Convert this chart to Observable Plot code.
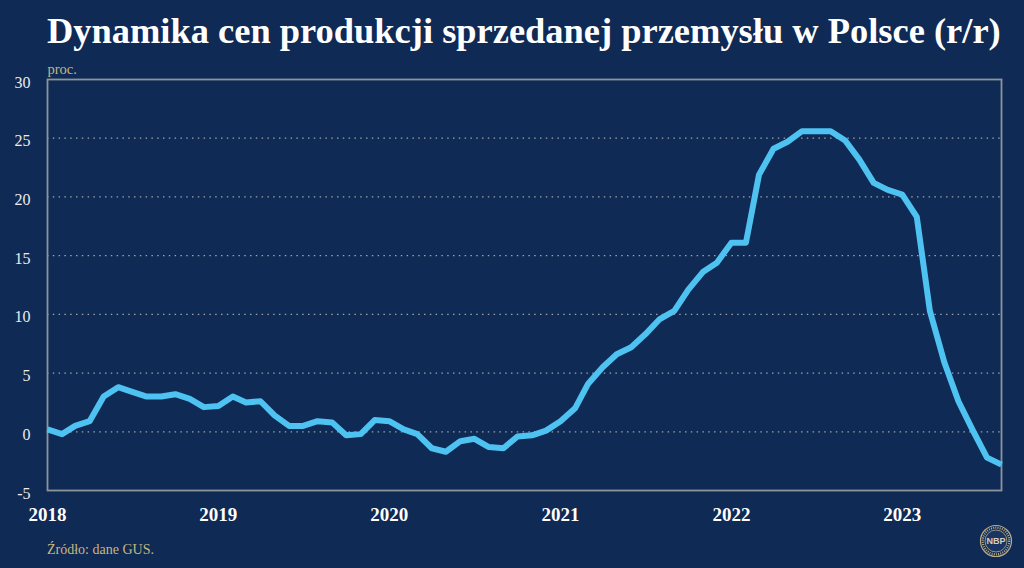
<!DOCTYPE html>
<html>
<head>
<meta charset="utf-8">
<script src="https://cdn.jsdelivr.net/npm/d3@7"></script>
<script src="https://cdn.jsdelivr.net/npm/@observablehq/plot@0.6"></script>
<style>
  html, body { margin: 0; padding: 0; background: #0f2a55; }
  #wrap { position: relative; width: 1024px; height: 568px; overflow: hidden; background: #0f2a55; }
  #title { position: absolute; left: 47px; top: 13px; white-space: nowrap;
           font-family: "Liberation Serif", serif; font-weight: bold; font-size: 33px; color: #ffffff; line-height: 1; }
  #caption { position: absolute; left: 47px; top: 543px; font-family: "Liberation Serif", serif;
             font-size: 14px; color: #c9b680; line-height: 1; }
  #logo { position: absolute; left: 979px; top: 524px; }
  #chart { position: absolute; left: 0; top: 0; }
</style>
</head>
<body>
<div id="wrap">
  <div id="chart"></div>
  <div id="title">Dynamika cen produkcji sprzedanej przemysłu w Polsce (r/r)</div>
  <div id="caption">Źródło: dane GUS.</div>
  <svg id="logo" width="34" height="34" viewBox="0 0 34 34">
    <circle cx="17" cy="17" r="15.5" fill="none" stroke="#b8ad88" stroke-width="1.2"/>
    <circle cx="17" cy="17" r="13.3" fill="none" stroke="#b8ad88" stroke-width="2.2" stroke-dasharray="1,1.2"/>
    <circle cx="17" cy="17" r="11" fill="#1a3563" stroke="#b8ad88" stroke-width="0.8"/>
    <text x="17" y="20.3" text-anchor="middle" font-family="Liberation Sans, sans-serif" font-weight="bold" font-size="9" fill="#d6d0b8">NBP</text>
  </svg>
</div>
<script>
// ---- data ----
const startMonth = "2018-01-01";
const values = [
  0.2, -0.2, 0.5, 0.9, 3.0, 3.8, 3.4, 3.0, 3.0, 3.2, 2.8, 2.1,      // 2018
  2.2, 3.0, 2.5, 2.6, 1.4, 0.5, 0.5, 0.9, 0.8, -0.3, -0.2, 1.0,     // 2019
  0.9, 0.2, -0.2, -1.4, -1.7, -0.8, -0.6, -1.3, -1.4, -0.4, -0.3, 0.1, // 2020
  0.9, 2.0, 4.1, 5.5, 6.6, 7.2, 8.3, 9.6, 10.3, 12.1, 13.6, 14.4,   // 2021
  16.1, 16.1, 21.9, 24.1, 24.7, 25.6, 25.6, 25.6, 24.8, 23.2, 21.2, 20.6, // 2022
  20.2, 18.3, 10.3, 5.9, 2.6, 0.1, -2.2, -2.8                      // 2023
];
const yearLabels = [2018, 2019, 2020, 2021, 2022, 2023];
const yTicks = [-5, 0, 5, 10, 15, 20, 25, 30];
const gridTicks = [0, 5, 10, 15, 20, 25];
const unitLabel = "proc.";

// ---- build table ----
const start = new Date(startMonth);
const data = values.map((v, i) => ({date: d3.utcMonth.offset(start, i), value: v}));
const yearDates = yearLabels.map(y => new Date(Date.UTC(y, 0, 1)));

const chart = Plot.plot({
  width: 1024,
  height: 568,
  marginLeft: 47,
  marginRight: 23,
  marginTop: 79,
  marginBottom: 78,
  style: {background: "transparent", fontFamily: "Liberation Serif, serif"},
  x: {type: "utc", domain: [data[0].date, data[data.length - 1].date]},
  y: {domain: [-5, 30]},
  marks: [
    Plot.gridY(gridTicks, {stroke: "#b9b9b0", strokeOpacity: 0.85, strokeDasharray: "1.5,4.3", strokeWidth: 1.3}),
    Plot.frame({stroke: "#8d949c", strokeWidth: 1.8}),
    Plot.axisY(yTicks, {tickSize: 0, tickPadding: 17, fontSize: 16, dy: 3, label: null, fill: "#ececec", tickFormat: d => d < 0 ? "-" + Math.abs(d) : String(d)}),
    Plot.axisX(yearDates, {tickSize: 0, tickPadding: 17, fontSize: 19, fontWeight: "bold", label: null, fill: "#ffffff", tickFormat: d3.utcFormat("%Y")}),
    Plot.text([unitLabel], {text: d => d, frameAnchor: "top-left", dy: -16, textAnchor: "start", fill: "#c9b680", fontSize: 14.5}),
    Plot.lineY(data, {x: "date", y: "value", stroke: "#4ec2f0", strokeWidth: 6, strokeLinejoin: "round", strokeLinecap: "butt"})
  ]
});
document.getElementById("chart").appendChild(chart);

// fit title width to the frame span
const t = document.getElementById("title");
const target = 954;
const w = t.getBoundingClientRect().width;
t.style.fontSize = (33 * target / w).toFixed(2) + "px";
</script>
</body>
</html>
